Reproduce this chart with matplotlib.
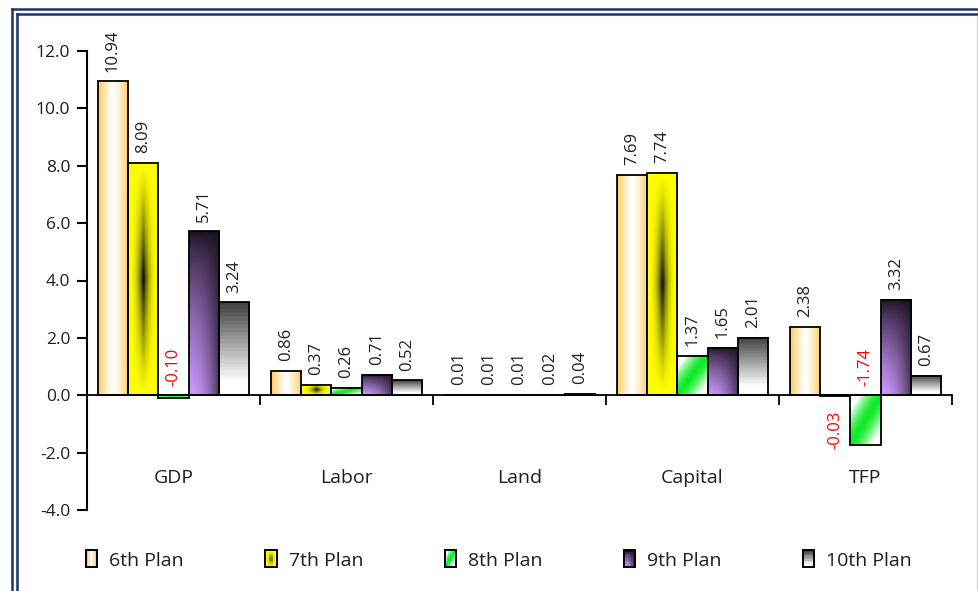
import numpy as np
import matplotlib
matplotlib.use("Agg")
import matplotlib.pyplot as plt
from matplotlib.patches import Rectangle
from matplotlib.lines import Line2D
from matplotlib.legend_handler import HandlerBase

# data
categories = ["GDP", "Labor", "Land", "Capital", "TFP"]
plans = ["6th Plan", "7th Plan", "8th Plan", "9th Plan", "10th Plan"]
plan6 = [10.94, 0.86, 0.01, 7.69, 2.38]
plan7 = [8.09, 0.37, 0.01, 7.74, -0.03]
plan8 = [-0.10, 0.26, 0.01, 1.37, -1.74]
plan9 = [5.71, 0.71, 0.02, 1.65, 3.32]
plan10 = [3.24, 0.52, 0.04, 2.01, 0.67]
series = [plan6, plan7, plan8, plan9, plan10]
yticks = [-4.0, -2.0, 0.0, 2.0, 4.0, 6.0, 8.0, 10.0, 12.0]
# the one label that sits under the axis in the original
label_below = [("TFP", "7th Plan")]

plt.rcParams["font.family"] = ["Open Sans", "DejaVu Sans"]
TXT = "#1e1e1e"
NAVY = "#1b3370"


def _grid(nx, ny):
    u = np.linspace(0, 1, nx)[None, :].repeat(ny, 0)
    v = np.linspace(0, 1, ny)[:, None].repeat(nx, 1)
    return u, v


def mix(c0, c1, s):
    c0 = np.array(c0)
    c1 = np.array(c1)
    return c0 + (c1 - c0) * s[..., None]


def grad6(nx, ny):
    u, v = _grid(nx, ny)
    dx = np.abs(u - 0.5) * 2
    return mix((1, 1, 1), (1.0, 0.80, 0.36), dx ** 1.3)


def grad7(nx, ny):
    u, v = _grid(nx, ny)
    dx = np.abs(u - 0.5) * 2
    dy = np.abs(v - 0.5) * 2
    dark = (1 - dx) ** 2.5 * (1 - dy) ** 1.2
    return mix((1.0, 1.0, 0.0), (0.0, 0.0, 0.0), dark)


def grad8(nx, ny):
    u, v = _grid(nx, ny)
    t = np.abs((u + v) / 2 - 0.5) * 2
    return mix((0.05, 0.92, 0.15), (1, 1, 1), np.clip(t * 1.4, 0, 1) ** 1.5)


def grad9(nx, ny):
    u, v = _grid(nx, ny)
    s = v ** 0.7 * (1 - 0.75 * u ** 2)
    return mix((0.10, 0.06, 0.12), (0.80, 0.60, 1.0), s)


def grad10(nx, ny):
    u, v = _grid(nx, ny)
    s = np.clip(v / 0.85, 0, 1)
    s = np.round(s * 20) / 20
    return mix((0.25, 0.25, 0.25), (1, 1, 1), s)


grads = [grad6, grad7, grad8, grad9, grad10]


class GradHandler(HandlerBase):
    def __init__(self, func):
        super().__init__()
        self.func = func

    def create_artists(self, legend, orig_handle, xdescent, ydescent,
                       width, height, fontsize, trans):
        nx, ny = 6, 10
        img = self.func(nx, ny)
        arts = []
        for j in range(ny):
            for i in range(nx):
                arts.append(Rectangle(
                    (-xdescent + i * width / nx, -ydescent + height - (j + 1) * height / ny),
                    width / nx, height / ny, facecolor=img[j, i], edgecolor="none",
                    antialiased=False, transform=trans))
        arts.append(Rectangle((-xdescent, -ydescent), width, height, facecolor="none",
                              edgecolor="black", lw=1.4, transform=trans))
        return arts


fig = plt.figure(figsize=(9.79, 5.91), dpi=100)
ax = fig.add_axes([87 / 979, 81 / 591, 865 / 979, 459 / 591])

x = np.arange(len(categories))
bw = 0.175
for k, (name, vals) in enumerate(zip(plans, series)):
    off = (k - 2) * bw
    bars = ax.bar(x + off, vals, bw, facecolor="none", edgecolor="black", lw=1.3, zorder=3)
    for ci, (p, val) in enumerate(zip(bars.patches, vals)):
        x0, w = p.get_x(), p.get_width()
        y0, h = p.get_y(), p.get_height()
        ext = (x0, x0 + w, min(y0, y0 + h), max(y0, y0 + h))
        ax.imshow(grads[k](40, 80), extent=ext, aspect="auto", interpolation="bilinear",
                  origin="upper", zorder=2)
        cx = x0 + w / 2
        col = "red" if val < 0 else TXT
        if (categories[ci], name) in label_below:
            ax.annotate(f"{val:.2f}", xy=(cx, 0), xytext=(0, -11), textcoords="offset points",
                        rotation=90, ha="center", va="top", color=col, fontsize=12)
        else:
            ax.annotate(f"{val:.2f}", xy=(cx, max(val, 0)), xytext=(0, 7),
                        textcoords="offset points", rotation=90, ha="center", va="bottom",
                        color=col, fontsize=12)

ax.set_xlim(-0.5, len(categories) - 0.5)
ax.set_ylim(yticks[0], yticks[-1])

for sp in ["top", "right"]:
    ax.spines[sp].set_visible(False)
ax.spines["bottom"].set_position(("data", 0))
ax.spines["bottom"].set_linewidth(1.3)
ax.spines["left"].set_linewidth(1.5)

ax.set_xticks(x + 0.5)
ax.set_xticklabels([])
ax.tick_params(axis="x", direction="out", length=7, width=1.3)
ax.set_yticks(yticks)
ax.set_yticklabels([f"{t:.1f}" for t in yticks])
ax.tick_params(axis="y", direction="out", length=7, width=1.5, labelsize=12.5,
               labelcolor=TXT, pad=5)

for i, cat in enumerate(categories):
    ax.text(i, -2.9, cat, ha="center", va="center", fontsize=14, color=TXT)

# legend with gradient swatches
proxies = [Rectangle((0, 0), 1, 1) for _ in plans]
fig.legend(proxies, plans, loc="center left", bbox_to_anchor=(86 / 979, 1 - 560 / 591),
           ncol=5, frameon=False, fontsize=14, labelcolor=TXT,
           handler_map={p: GradHandler(g) for p, g in zip(proxies, grads)},
           handlelength=0.57, handleheight=0.95, handletextpad=0.62, columnspacing=4.2,
           borderpad=0, borderaxespad=0)

# double navy frame (cut off at right and bottom in the reference)
for yy, xx in [(8.7, 12.2), (14.0, 16.6)]:
    fig.add_artist(Line2D([xx / 979, 1], [1 - yy / 591] * 2, transform=fig.transFigure,
                          color=NAVY, lw=1.8))
    fig.add_artist(Line2D([xx / 979] * 2, [1 - yy / 591, 0], transform=fig.transFigure,
                          color=NAVY, lw=1.8))
fig.add_artist(Line2D([977.5 / 979] * 2, [1 - 16 / 591, 0], transform=fig.transFigure,
                      color="#d6d6ea", lw=1.0))

fig.savefig("out.png", dpi=100)
